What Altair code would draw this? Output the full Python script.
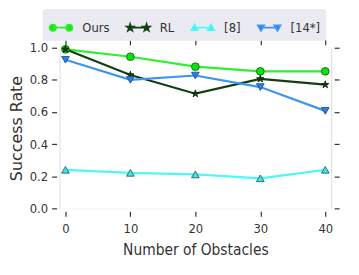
import math
import altair as alt
import pandas as pd

# ---- data ----
obstacles = [0, 10, 20, 30, 40]
ours = [0.99, 0.944, 0.882, 0.853, 0.853]
rl = [0.99, 0.83, 0.714, 0.806, 0.77]
ref8 = [0.24, 0.221, 0.211, 0.187, 0.24]
ref14 = [0.925, 0.80, 0.827, 0.755, 0.607]
series_names = ["Ours", "RL", "[8]", "[14*]"]
y_ticks = [0.0, 0.2, 0.4, 0.6, 0.8, 1.0]

rows = []
for name, vals in zip(series_names, [ours, rl, ref8, ref14]):
    for x, v in zip(obstacles, vals):
        rows.append({"obstacles": x, "rate": v, "series": name})
df = pd.DataFrame(rows)

# ---- styles ----
line_colors = ["#2df02d", "#123f12", "#4ef8f8", "#3d95f2"]
marker_fill = ["#10e010", "#123f12", "#3fe6e6", "#2f7fe0"]
marker_edge = ["#0a6a0a", "#0b2a0b", "#2b5f63", "#1f4f8f"]
FONT = "DejaVu Sans Condensed, Liberation Sans Narrow, DejaVu Sans"
TXT = "#333333"


def fmt(v):
    return f"{v:.3f}".rstrip("0").rstrip(".")


def star_path(cx, s):
    pts = []
    for k in range(10):
        ang = math.radians(-90 + 36 * k)
        r = s if k % 2 == 0 else s * 0.382
        pts.append((cx + r * math.cos(ang), r * math.sin(ang)))
    return "M" + "L".join(f"{fmt(a)},{fmt(b)}" for a, b in pts) + "Z"


def circle_path(cx, r):
    return (f"M{fmt(cx - r)},0A{fmt(r)},{fmt(r)} 0 1,0 {fmt(cx + r)},0"
            f"A{fmt(r)},{fmt(r)} 0 1,0 {fmt(cx - r)},0Z")


def tri_path(cx, s, up=True):
    d = -1 if up else 1
    return (f"M{fmt(cx)},{fmt(d * s)}L{fmt(cx + s)},{fmt(-d * s * 0.75)}"
            f"L{fmt(cx - s)},{fmt(-d * s * 0.75)}Z")


LINE = "M-0.72,0L0.72,0"
legend_shapes = [
    LINE + circle_path(-0.72, 0.27) + circle_path(0.72, 0.27),
    LINE + star_path(-0.72, 0.3) + star_path(0.72, 0.3),
    LINE + tri_path(-0.72, 0.27, True) + tri_path(0.72, 0.27, True),
    LINE + tri_path(-0.72, 0.27, False) + tri_path(0.72, 0.27, False),
]
plot_shapes = ["circle", star_path(0, 1.0), "triangle-up", "triangle-down"]

x_scale = alt.Scale(domain=[-0.91, 40.91], nice=False, zero=False)
y_scale = alt.Scale(domain=[0.0, 1.0], nice=False, zero=False)

axis_common = dict(
    domain=False, tickColor=TXT, tickSize=5, tickWidth=1.2, tickOffset=0,
    offset=3, labelFont=FONT, labelFontSize=13, labelColor=TXT,
)

base = alt.Chart(df)

lines = base.mark_line(strokeWidth=2.2).encode(
    x=alt.X("obstacles:Q", scale=x_scale,
            axis=alt.Axis(values=obstacles, title="Number of Obstacles",
                          titleFont=FONT, titleFontSize=15.5, titleFontWeight="normal",
                          titleColor=TXT, titlePadding=8, labelPadding=6,
                          grid=True, gridColor="white", gridWidth=1.3, **axis_common)),
    y=alt.Y("rate:Q", scale=y_scale,
            axis=alt.Axis(values=y_ticks, format=".1f", title="Success Rate",
                          titleFont="DejaVu Sans", titleFontSize=16,
                          titleFontWeight="normal", titleColor=TXT, titlePadding=5,
                          labelPadding=4, grid=True, gridColor="white",
                          gridWidth=1.3, **axis_common)),
    color=alt.Color("series:N", scale=alt.Scale(domain=series_names, range=line_colors),
                    legend=None),
    detail="series:N",
)

points = base.mark_point(filled=True, opacity=1, strokeWidth=0.9, size=60).encode(
    x=alt.X("obstacles:Q", scale=x_scale,
            axis=alt.Axis(orient="top", values=obstacles, labels=False, title=None,
                          grid=False, **axis_common)),
    y=alt.Y("rate:Q", scale=y_scale,
            axis=alt.Axis(orient="right", values=y_ticks, labels=False, title=None,
                          grid=False, **axis_common)),
    fill=alt.Fill("series:N", scale=alt.Scale(domain=series_names, range=marker_fill),
                  legend=None),
    stroke=alt.Stroke("series:N", scale=alt.Scale(domain=series_names, range=marker_edge),
                      legend=None),
    shape=alt.Shape("series:N", scale=alt.Scale(domain=series_names, range=plot_shapes),
                    legend=None),
)

leg = dict(orient="none", legendX=-17, legendY=-39, direction="horizontal",
           title=None, columns=4, fillColor="#eaeaf2", padding=6,
           cornerRadius=2, symbolSize=529, symbolStrokeWidth=1.8,
           labelFont=FONT, labelFontSize=13, labelColor=TXT,
           labelOffset=9, columnPadding=13)

legend_layer = base.transform_filter("datum.obstacles < -1000").mark_point(
    filled=False, opacity=1).encode(
    fill=alt.Fill("series:N", scale=alt.Scale(domain=series_names, range=marker_fill),
                  legend=alt.Legend(**leg)),
    stroke=alt.Stroke("series:N", scale=alt.Scale(domain=series_names, range=line_colors),
                      legend=alt.Legend(**leg)),
    shape=alt.Shape("series:N", scale=alt.Scale(domain=series_names, range=legend_shapes),
                    legend=alt.Legend(**leg)),
)

chart = alt.layer(lines, points, legend_layer).resolve_scale(
    fill="independent", stroke="independent", shape="independent"
).resolve_axis(x="independent", y="independent").properties(
    width=274, height=162,
    autosize=alt.AutoSizeParams(type="none"),
    padding={"left": 52, "top": 39, "right": 20, "bottom": 50},
).configure_view(fill="#eaeaf2", stroke=None).configure(background="white")

chart.save("out.html", embed_options={"renderer": "svg", "actions": False})
